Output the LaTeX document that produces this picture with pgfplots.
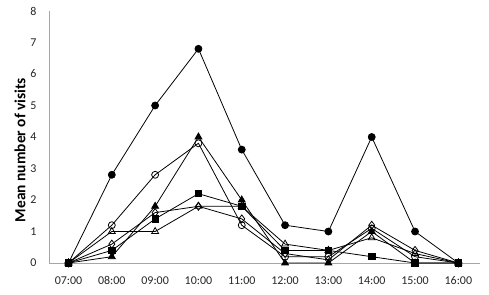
\documentclass[border=0pt]{standalone}
\usepackage{pgfplots}
\pgfplotsset{compat=1.18}
\usepackage{fontspec}
\setmainfont{Carlito}
\begin{document}
\begin{tikzpicture}[x=1bp,y=1bp]
\useasboundingbox (-49,-31) rectangle (440,263);
\begin{axis}[
  at={(0,0)}, anchor=south west,
  scale only axis,
  width=431bp, height=252bp,
  xmin=-0.45, xmax=9.5,
  ymin=0, ymax=8,
  xtick={0,...,9},
  xticklabels={07:00,08:00,09:00,10:00,11:00,12:00,13:00,14:00,15:00,16:00},
  ytick={0,...,8},
  axis x line=bottom, axis y line=left,
  axis line style={draw=black!35, line width=0.7pt, -},
  major tick length=0pt,
  tick style={draw=none},
  ticklabel style={font=\fontsize{12}{14}\selectfont, text=black!85},
  /pgf/number format/assume math mode=true,
  xticklabel style={yshift=-10bp},
  yticklabel style={xshift=-9bp},
  ylabel={\textbf{Mean number of visits}},
  every axis y label/.style={at={(-29bp,113bp)}, rotate=90, anchor=center, font=\fontsize{15.5}{17}\selectfont},
  every axis plot/.append style={black, line width=0.8pt},
  clip=false,
]
\addplot[mark=*, mark size=3.5pt] coordinates {(0,0)(1,2.8)(2,5.0)(3,6.8)(4,3.6)(5,1.2)(6,1.0)(7,4.0)(8,1.0)(9,0)};
\addplot[mark=o, mark size=3.5pt, mark options={fill=white}] coordinates {(0,0)(1,1.2)(2,2.8)(3,3.8)(4,1.2)(5,0.2)(6,0.2)(7,1.1)(8,0.2)(9,0)};
\addplot[mark=triangle*, mark size=4pt] coordinates {(0,0)(1,0.2)(2,1.8)(3,4.0)(4,2.0)(5,0)(6,0)(7,1.0)(8,0)(9,0)};
\addplot[mark=triangle, mark size=4pt, mark options={fill=white}] coordinates {(0,0)(1,1.0)(2,1.0)(3,1.8)(4,1.8)(5,0.6)(6,0.4)(7,0.8)(8,0.3)(9,0)};
\addplot[mark=square*, mark size=3.2pt] coordinates {(0,0)(1,0.4)(2,1.4)(3,2.2)(4,1.8)(5,0.4)(6,0.4)(7,0.2)(8,0)(9,0)};
\addplot[mark=diamond, mark size=4pt, mark options={fill=white}] coordinates {(0,0)(1,0.6)(2,1.6)(3,1.8)(4,1.4)(5,0.3)(6,0.1)(7,1.2)(8,0.4)(9,0)};
\end{axis}
\end{tikzpicture}
\end{document}
